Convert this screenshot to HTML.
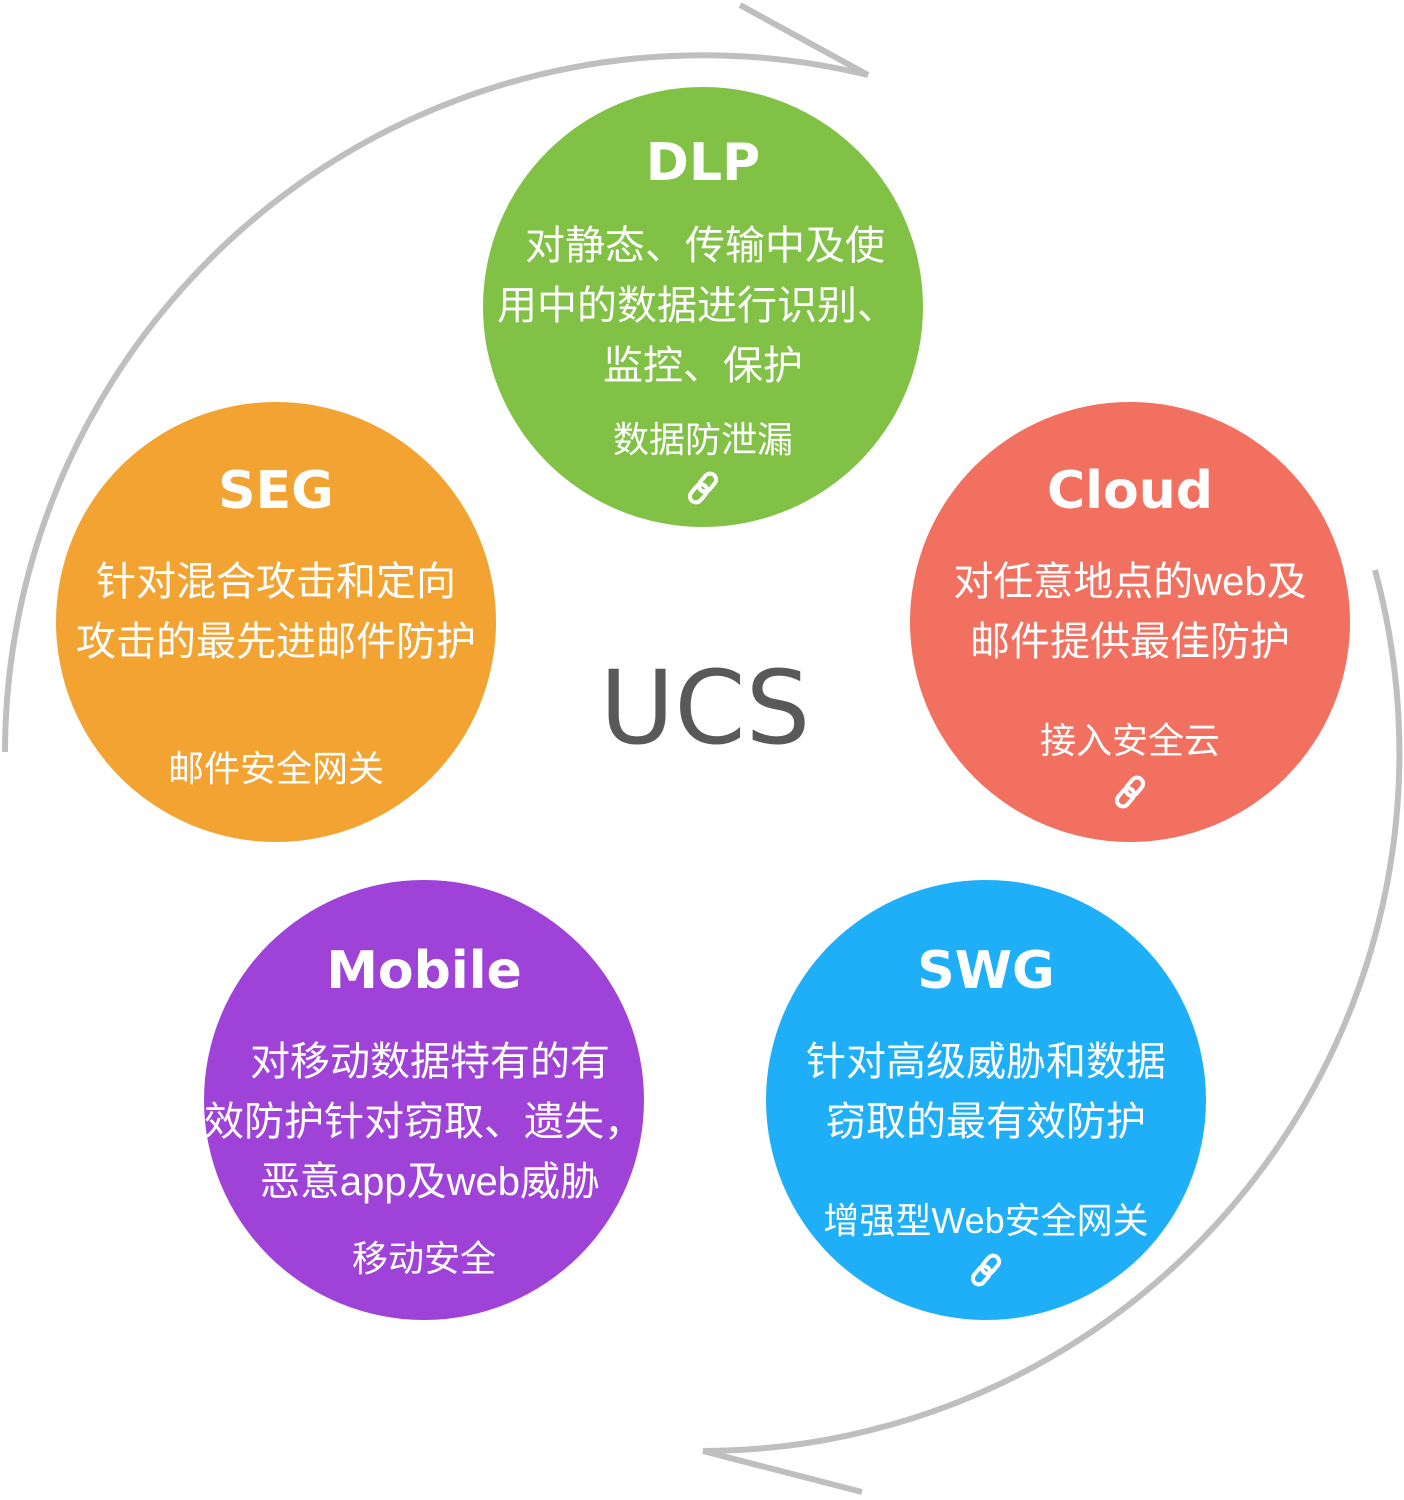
<!DOCTYPE html>
<html><head><meta charset="utf-8"><style>
html,body{margin:0;padding:0;background:#fff}
svg{display:block}
.t{font-family:"DejaVu Sans","Liberation Sans",sans-serif;font-weight:bold;font-size:52px;fill:#fff;text-anchor:middle}
.b{font-family:"Liberation Sans","Noto Sans CJK SC",sans-serif;font-size:40px;fill:#fff;text-anchor:middle}
.s{font-family:"Liberation Sans","Noto Sans CJK SC",sans-serif;font-size:36px;fill:#fff;text-anchor:middle}
</style></head><body>
<svg width="1404" height="1500" viewBox="0 0 1404 1500" xmlns="http://www.w3.org/2000/svg">
<defs>
<g id="lk" fill="none" stroke="#fff" stroke-width="4">
<rect x="-6" y="-17" width="12" height="20" rx="6" transform="rotate(40)"/>
<rect x="-6" y="-3" width="12" height="20" rx="6" transform="rotate(40)"/>
</g>
</defs>
<g fill="none" stroke="#bfbfbf" stroke-width="6">
<path d="M5 752 A698 698 0 0 1 868 75"/>
<path d="M868 75 L740 5"/>
<path d="M1375 570 A698 698 0 0 1 703 1451"/>
<path d="M703 1451 L862 1492"/>
</g>
<circle cx="703" cy="307" r="220" fill="#80c146"/>
<circle cx="276" cy="622" r="220" fill="#f2a332"/>
<circle cx="1130" cy="622" r="220" fill="#f27060"/>
<circle cx="424" cy="1100" r="220" fill="#9f42d8"/>
<circle cx="986" cy="1100" r="220" fill="#1eaff8"/>

<text x="703" y="180" class="t">DLP</text>
<text x="705" y="259" class="b">对静态、传输中及使</text>
<text x="697" y="319" class="b">用中的数据进行识别、</text>
<text x="703" y="379" class="b">监控、保护</text>
<text x="703" y="452" class="s">数据防泄漏</text>
<use href="#lk" x="703" y="488"/>

<text x="276" y="508" class="t">SEG</text>
<text x="276" y="595" class="b">针对混合攻击和定向</text>
<text x="276" y="655" class="b">攻击的最先进邮件防护</text>
<text x="276" y="781" class="s">邮件安全网关</text>

<text x="1130" y="508" class="t">Cloud</text>
<text x="1130" y="595" class="b">对任意地点的web及</text>
<text x="1130" y="655" class="b">邮件提供最佳防护</text>
<text x="1130" y="753" class="s">接入安全云</text>
<use href="#lk" x="1130" y="792"/>

<text x="424" y="988" class="t">Mobile</text>
<text x="430" y="1075" class="b">对移动数据特有的有</text>
<text x="424" y="1135" class="b">效防护针对窃取、遗失，</text>
<text x="430" y="1195" class="b">恶意app及web威胁</text>
<text x="424" y="1271" class="s">移动安全</text>

<text x="986" y="988" class="t">SWG</text>
<text x="986" y="1075" class="b">针对高级威胁和数据</text>
<text x="986" y="1135" class="b">窃取的最有效防护</text>
<text x="986" y="1233" class="s">增强型Web安全网关</text>
<use href="#lk" x="986" y="1270"/>

<text x="705" y="743" font-family="DejaVu Sans,Liberation Sans,sans-serif" font-size="102" fill="#595959" text-anchor="middle">UCS</text>
</svg>
</body></html>
